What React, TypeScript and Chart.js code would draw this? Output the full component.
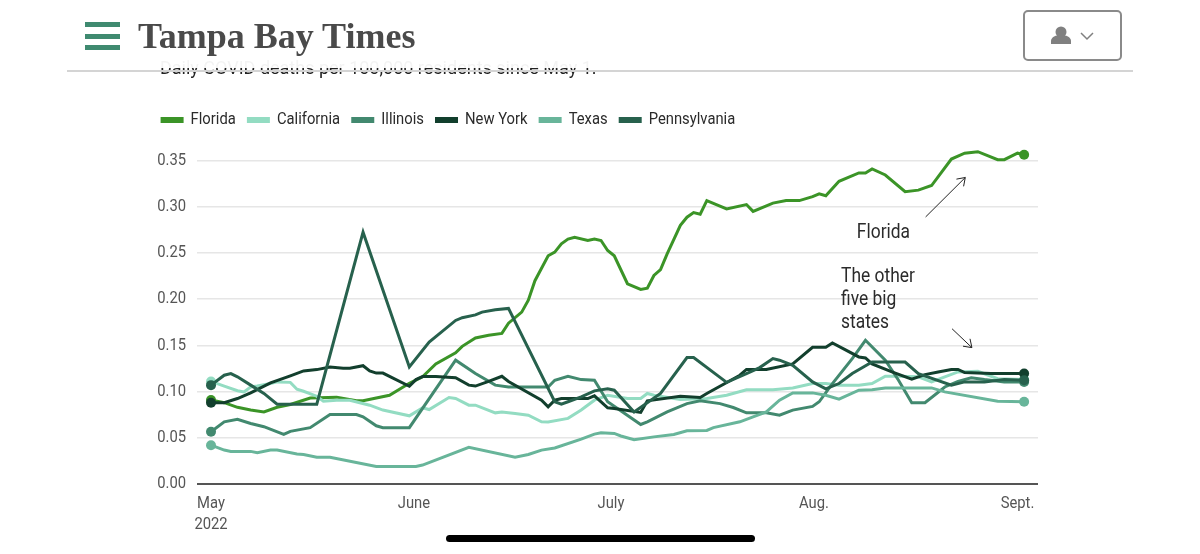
import React, { useEffect, useRef } from "react";
import { Chart, registerables } from "chart.js";

Chart.register(...registerables);

const floridaDays = [0,2,4,6,8,10,12,15,19,22,23,27,30,32,34,37,38,40,42,44,45,47,48,49,51,52,53,54,55,57,58,59,60,61,63,65,66,67,68,69,71,72,73,74,75,78,81,82,85,87,89,91,92,93,95,98,99,100,102,105,107,109,112,114,116,119,120,122,123];
const floridaValues = [.091,.088,.083,.08,.078,.083,.086,.093,.094,.09,.09,.096,.109,.116,.13,.142,.149,.158,.161,.163,.174,.186,.199,.22,.247,.251,.26,.265,.267,.2635,.265,.2635,.2527,.247,.2167,.2106,.212,.2257,.232,.249,.28,.2887,.2937,.292,.3067,.2977,.3024,.295,.304,.3067,.3067,.311,.314,.312,.3276,.3366,.3366,.341,.3344,.3164,.318,.323,.3517,.358,.3596,.351,.351,.358,.3564];

const californiaDays = [0,2,4,5,6,7,9,10,12,13,14,16,17,19,21,24,26,30,32,33,36,37,39,40,43,44,46,48,50,51,54,56,58,60,63,65,66,67,71,75,78,81,85,88,91,93,95,98,100,102,104,107,109,111,113,116,119,123];
const californiaValues = [.111,.106,.101,.0997,.105,.106,.1087,.1105,.11,.1026,.1004,.095,.0896,.0907,.0907,.0853,.08,.0738,.0824,.0806,.0936,.0925,.0853,.0853,.077,.078,.0763,.0745,.0673,.067,.071,.08,.0907,.096,.0925,.0925,.098,.096,.0914,.0925,.096,.102,.102,.104,.1087,.1087,.107,.107,.1087,.1166,.1166,.116,.1105,.116,.1213,.122,.114,.113];

const illinoisDays = [0,2,4,6,8,11,12,15,18,22,23,25,26,30,37,40,43,45,51,52,54,56,58,60,65,66,69,72,74,77,79,81,84,86,88,91,92,94,97,99,102,104,106,108,111,113,115,117,120,123];
const illinoisValues = [.0565,.0673,.07,.0655,.062,.0536,.057,.061,.0752,.0752,.0727,.063,.061,.061,.134,.1195,.107,.105,.105,.1123,.1166,.113,.1123,.089,.0644,.0673,.078,.087,.09,.087,.0828,.077,.077,.0745,.08,.084,.089,.1087,.1357,.1555,.134,.1123,.088,.088,.105,.111,.115,.113,.1105,.1105];

const newYorkDays = [0,2,4,6,9,12,14,16,18,20,21,23,24,25,26,30,31,32,34,37,39,40,42,44,45,50,51,52,53,57,58,60,61,65,66,71,74,75,80,81,84,88,91,93,94,98,99,100,103,106,108,110,112,113,114,118,123];
const newYorkValues = [.088,.088,.0925,.0986,.1094,.117,.1224,.1238,.1267,.1253,.1253,.128,.1224,.12,.12,.1058,.113,.1163,.1163,.115,.107,.106,.111,.1166,.111,.0907,.0835,.0907,.0925,.0925,.0954,.0824,.0817,.0774,.09,.095,.0936,.098,.1177,.124,.124,.13,.148,.148,.1526,.1375,.1364,.13,.1213,.1134,.1184,.1213,.124,.124,.1206,.1195,.1195];

const texasDays = [0,2,3,6,7,9,10,13,14,16,18,25,31,32,39,46,48,50,52,56,58,59,61,62,64,67,70,72,75,76,80,82,84,86,88,91,93,95,98,100,102,109,111,119,123];
const texasValues = [.042,.0367,.0353,.0353,.0338,.0367,.0367,.0324,.032,.029,.029,.019,.019,.0205,.0396,.029,.032,.0367,.039,.0486,.054,.0554,.0547,.052,.048,.051,.0536,.0576,.058,.061,.0673,.0727,.078,.0907,.0986,.0986,.096,.0918,.1015,.102,.104,.104,.0997,.0896,.089];

const pennsylvaniaDays = [0,2,3,4,6,8,10,16,23,30,33,37,38,40,41,43,45,52,53,54,56,58,60,61,64,68,72,73,78,81,83,85,86,88,91,93,95,97,100,105,107,112,114,117,120,123];
const pennsylvaniaValues = [.107,.1177,.1195,.116,.107,.098,.0864,.0864,.2725,.1267,.1537,.177,.18,.183,.186,.1886,.19,.089,.0864,.089,.0943,.1008,.103,.1015,.078,.098,.1368,.1368,.11,.1195,.126,.1357,.134,.1285,.1105,.103,.1087,.1195,.132,.132,.1195,.107,.1105,.1105,.113,.1123];

const stateNames = ["Florida", "California", "Illinois", "New York", "Texas", "Pennsylvania"];
const stateColors = ["#3b9427", "#93dcc2", "#42896f", "#123f2d", "#68b59a", "#27614d"];
const stateDays = [floridaDays, californiaDays, illinoisDays, newYorkDays, texasDays, pennsylvaniaDays];
const stateValues = [floridaValues, californiaValues, illinoisValues, newYorkValues, texasValues, pennsylvaniaValues];

const yTicks = [0, 0.05, 0.1, 0.15, 0.2, 0.25, 0.3, 0.35];
const monthTickDays = [0, 30.7, 60.5, 91.2, 122];
const monthLabels: (string | string[])[] = [["May", "2022"], "June", "July", "Aug.", "Sept."];

const HEADER_TITLE = "Tampa Bay Times";
const SUBTITLE = "Daily COVID deaths per 100,000 residents since May 1.";
const FONT = "Roboto, sans-serif";
const CONDENSE = 0.87;

// The original face is a condensed Roboto: narrow the canvas text horizontally.
function condenseText(ctx: any) {
  const fill = ctx.fillText.bind(ctx);
  const measure = ctx.measureText.bind(ctx);
  ctx.fillText = (text: string, x: number, y: number) => {
    ctx.save();
    ctx.translate(x, y);
    ctx.scale(CONDENSE, 1);
    fill(text, 0, 0);
    ctx.restore();
  };
  ctx.measureText = (text: string) => ({ width: measure(text).width * CONDENSE });
}

const legendGap = {
  id: "legendGap",
  beforeInit(chart: any) {
    const fit = chart.legend.fit;
    chart.legend.fit = function () {
      fit.call(this);
      this.height += 3.5;
    };
  },
};

const notes = {
  id: "notes",
  afterDatasetsDraw(chart: any) {
    const { ctx, scales } = chart;
    const px = (d: number) => scales.x.getPixelForValue(d);
    const py = (v: number) => scales.y.getPixelForValue(v);
    ctx.save();
    ctx.fillStyle = "#2b2b2b";
    ctx.strokeStyle = "#222";
    ctx.lineWidth = 1;
    ctx.font = `20px ${FONT}`;
    ctx.textBaseline = "middle";
    ctx.textAlign = "left";
    ctx.fillText("Florida", px(97.7), py(0.272));
    ctx.fillText("The other", px(95.3), py(0.2235));
    ctx.fillText("five big", px(95.3), py(0.1987));
    ctx.fillText("states", px(95.3), py(0.1739));
    const arrow = (d0: number, v0: number, d1: number, v1: number) => {
      const x0 = px(d0), y0 = py(v0), x1 = px(d1), y1 = py(v1);
      const a = Math.atan2(y1 - y0, x1 - x0);
      ctx.beginPath();
      ctx.moveTo(x0, y0);
      ctx.lineTo(x1, y1);
      ctx.moveTo(x1 - 9 * Math.cos(a - 0.6), y1 - 9 * Math.sin(a - 0.6));
      ctx.lineTo(x1, y1);
      ctx.lineTo(x1 - 9 * Math.cos(a + 0.6), y1 - 9 * Math.sin(a + 0.6));
      ctx.stroke();
    };
    arrow(108.1, 0.289, 114.1, 0.3317);
    arrow(112.1, 0.168, 115.1, 0.1476);
    ctx.restore();
  },
};

export default function App() {
  const ref = useRef<HTMLCanvasElement>(null);
  useEffect(() => {
    const canvas = ref.current!;
    condenseText(canvas.getContext("2d"));
    const chart = new Chart(canvas, {
      type: "line",
      data: {
        datasets: stateNames.map((name, i) => ({
          label: name,
          data: stateDays[i].map((d, j) => ({ x: d, y: stateValues[i][j] })),
          borderColor: stateColors[i],
          backgroundColor: stateColors[i],
          borderWidth: 3,
          tension: 0,
          clip: false as any,
          order: 5 - i,
          pointBorderWidth: 0,
          pointRadius: (c: any) => (c.dataIndex === 0 || c.dataIndex === stateDays[i].length - 1 ? 5 : 0),
        })),
      },
      plugins: [legendGap, notes],
      options: {
        animation: false,
        responsive: false,
        layout: { padding: { left: 149.5, right: 162, top: 99, bottom: 14 } },
        plugins: {
          tooltip: { enabled: false },
          legend: {
            position: "top",
            align: "start",
            labels: {
              boxWidth: 20,
              boxHeight: 3,
              padding: 12.6,
              color: "#2b2b2b",
              font: { family: FONT, size: 17 },
              sort: (a: any, b: any) => a.datasetIndex - b.datasetIndex,
            },
          },
        },
        scales: {
          x: {
            type: "linear",
            min: -2.12,
            max: 125.1,
            border: { display: false },
            grid: { display: false, drawTicks: false },
            afterBuildTicks: (s: any) => {
              s.ticks = monthTickDays.map((value) => ({ value }));
            },
            afterFit: (s: any) => {
              s.height = 56;
            },
            ticks: {
              autoSkip: false,
              maxRotation: 0,
              padding: 10,
              color: "#555",
              font: { family: FONT, size: 17 },
              callback: (v: any) => monthLabels[monthTickDays.indexOf(Number(v))],
            },
          },
          y: {
            min: 0,
            max: 0.37,
            border: { display: false },
            afterBuildTicks: (s: any) => {
              s.ticks = yTicks.map((value) => ({ value }));
            },
            afterFit: (s: any) => {
              s.width = 47.5;
            },
            grid: {
              drawTicks: false,
              color: (c: any) => (c.tick.value === 0 ? "#555" : "#e6e6e6"),
              lineWidth: (c: any) => (c.tick.value === 0 ? 2 : 1.5),
            },
            ticks: {
              padding: 11,
              color: "#555",
              font: { family: FONT, size: 17 },
              callback: (v: any) => Number(v).toFixed(2),
            },
          },
        },
      },
    } as any);
    return () => chart.destroy();
  }, []);

  return (
    <div style={{ position: "fixed", left: 0, top: 0, width: 1200, height: 554, background: "#fff", overflow: "hidden" }}>
      <canvas ref={ref} width={1200} height={554} style={{ position: "absolute", left: 0, top: 0, display: "block" }} />
      <div style={{ position: "absolute", left: 160, top: 57, font: "18px Roboto, sans-serif", color: "#222", whiteSpace: "nowrap" }}>{SUBTITLE}</div>
      <div style={{ position: "absolute", left: 0, top: 0, width: 1200, height: 68, background: "rgba(255,255,255,0.95)" }} />
      <div style={{ position: "absolute", left: 67, top: 70, width: 1066, height: 2, background: "#d4d4d4" }} />
      {[22, 34, 45].map((t) => (
        <div key={t} style={{ position: "absolute", left: 85, top: t, width: 35, height: 4.5, background: "#3f8a70" }} />
      ))}
      <div style={{ position: "absolute", left: 138, top: 15, font: "bold 36px 'Liberation Serif', serif", color: "#4a4a4a", whiteSpace: "nowrap" }}>{HEADER_TITLE}</div>
      <div style={{ position: "absolute", left: 1023, top: 10, width: 95, height: 47, border: "2px solid #8a8a8a", borderRadius: 5 }} />
      <svg style={{ position: "absolute", left: 1045, top: 22 }} width="52" height="26">
        <circle cx="16" cy="10" r="5.5" fill="#808080" />
        <path d="M6 22 v-3 c0-4 5-6 10-6 s10 2 10 6 v3 z" fill="#808080" />
        <path d="M36 11 l6 6 l6-6" fill="none" stroke="#808080" strokeWidth="1.5" />
      </svg>
      <div style={{ position: "absolute", left: 446, top: 535, width: 309, height: 7, background: "#000", borderRadius: 4 }} />
    </div>
  );
}
